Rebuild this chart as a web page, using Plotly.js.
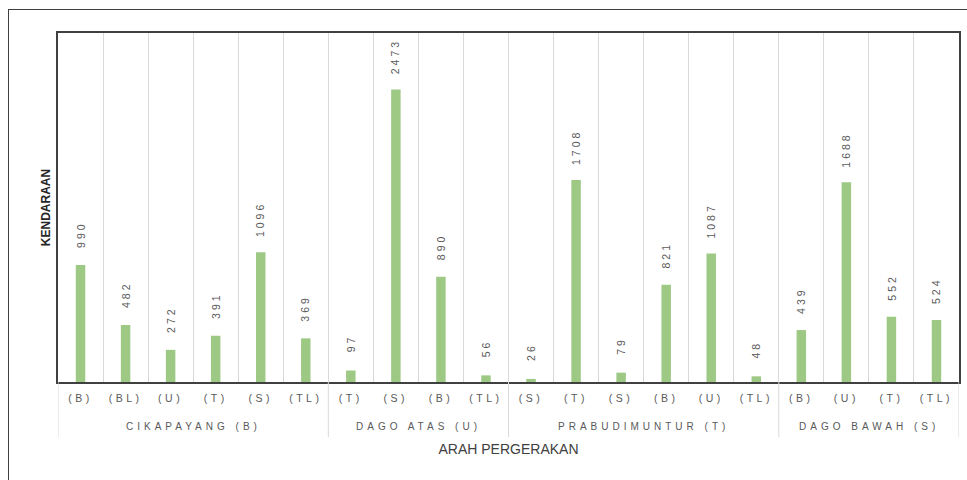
<!DOCTYPE html>
<html>
<head>
<meta charset="utf-8">
<script src="https://cdn.plot.ly/plotly-3.0.1.min.js"></script>
<style>
  html, body { margin:0; padding:0; background:#fff; overflow:hidden; }
  #wrap { position:relative; width:967px; height:480px; }
  #chart { position:absolute; left:0; top:0; width:967px; height:480px; }
  #frame { position:absolute; left:8px; top:9px; width:1000px; height:600px; border:1.5px solid #404040; pointer-events:none; }
  .xtick text { letter-spacing: 3.5px; }
</style>
</head>
<body>
<div id="wrap">
  <div id="chart"></div>
  <div id="frame"></div>
</div>
<script>
// ---- data ----
var groupNames = ["CIKAPAYANG (B)", "DAGO ATAS (U)", "PRABUDIMUNTUR (T)", "DAGO BAWAH (S)"];
var groupOf = [0,0,0,0,0,0, 1,1,1,1, 2,2,2,2,2,2, 3,3,3,3];
var directions = ["(B)","(BL)","(U)","(T)","(S)","(TL)",
                  "(T)","(S)","(B)","(TL)",
                  "(S)","(T)","(S)","(B)","(U)","(TL)",
                  "(B)","(U)","(T)","(TL)"];
var values = [990, 482, 272, 391, 1096, 369,
              97, 2473, 890, 56,
              26, 1708, 79, 821, 1087, 48,
              439, 1688, 552, 524];

// ---- build ----
var idx = directions.map(function(_, i){ return i; });
var n = directions.length;

var trace = {
  type: 'bar',
  x: idx,
  y: values,
  width: 0.21,
  marker: { color: '#9dc985' },
  hoverinfo: 'skip'
};

var annotations = [];
var shapes = [];
var boundaries = [-0.5];
groupNames.forEach(function(g, gi){
  var members = idx.filter(function(i){ return groupOf[i] === gi; });
  var lo = members[0], hi = members[members.length-1];
  boundaries.push(hi + 0.5);
  annotations.push({
    xref:'x', yref:'paper', x:(lo+hi)/2, y:-0.127, yanchor:'middle', xanchor:'center',
    text: g, showarrow:false, font:{family:'Liberation Sans, Arial, sans-serif', size:10, color:'#595959'}
  });
});
boundaries.forEach(function(b){
  shapes.push({type:'line', xref:'x', yref:'paper', x0:b, x1:b, y0:0, y1:-0.158,
               line:{color:'#d9d9d9', width:1}});
});
values.forEach(function(v, i){
  annotations.push({
    xref:'x', yref:'y', x:idx[i], y:v, yanchor:'bottom', xanchor:'center', yshift:19,
    text:String(v), textangle:-90, showarrow:false,
    font:{family:'Liberation Sans, Arial, sans-serif', size:10.5, color:'#595959'}
  });
});

var layout = {
  width: 967, height: 480,
  margin: { l:58, r:8, t:33, b:98, pad:0 },
  paper_bgcolor: 'rgba(0,0,0,0)',
  plot_bgcolor: '#fff',
  showlegend: false,
  xaxis: {
    range: [-0.5, n - 0.5],
    tickmode: 'array', tickvals: idx, ticktext: directions,
    ticks: '', showgrid: false, zeroline: false, ticklabelstandoff: 5,
    showline: true, mirror: true, linecolor: '#404040', linewidth: 2,
    tickfont: { family:'Liberation Sans, Arial, sans-serif', size:10.5, color:'#595959' },
    minor: { tick0: 0.5, dtick: 1, showgrid: true, gridcolor: '#d9d9d9', gridwidth: 1, ticks: '' },
    title: { text: 'ARAH PERGERAKAN', standoff: 42,
             font: { family:'Liberation Sans, Arial, sans-serif', size:14, color:'#404040' } },
    fixedrange: true
  },
  yaxis: {
    range: [0, 2950],
    showticklabels: false, ticks: '', showgrid: false, zeroline: false,
    showline: true, mirror: true, linecolor: '#404040', linewidth: 2,
    title: { text: '<b>KENDARAAN</b>', standoff: 3,
             font: { family:'Liberation Sans, Arial, sans-serif', size:12, color:'#262626' } },
    fixedrange: true
  },
  annotations: annotations,
  shapes: shapes
};

Plotly.newPlot('chart', [trace], layout, { displayModeBar: false, staticPlot: true }).then(function(){
  document.querySelectorAll('.annotation').forEach(function(a){
    var k = parseInt(a.getAttribute('data-index'), 10);
    var sp = (k < groupNames.length) ? '4px' : '3px';
    a.querySelectorAll('text').forEach(function(t){ t.style.letterSpacing = sp; });
  });
});
</script>
</body>
</html>
